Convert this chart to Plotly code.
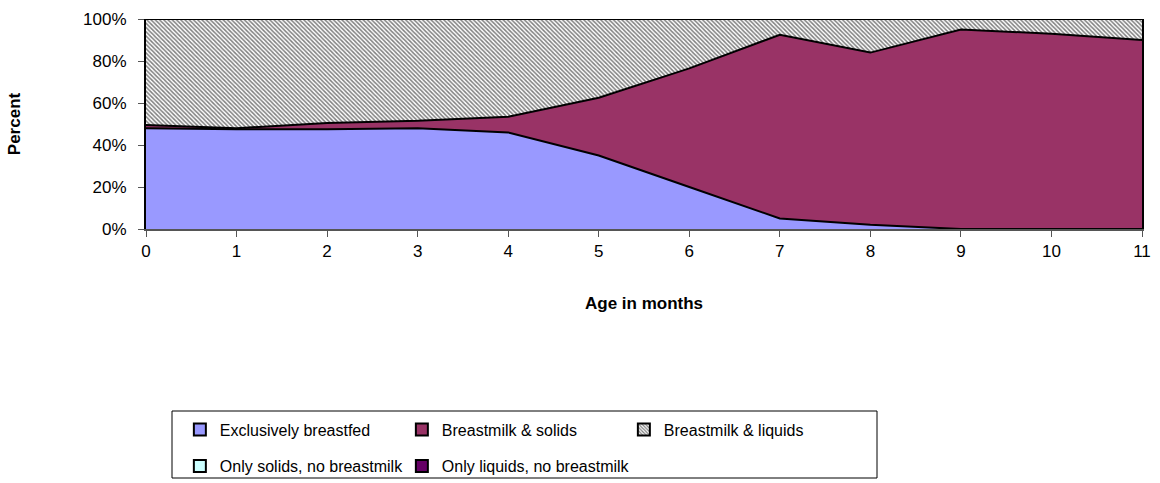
import plotly.graph_objects as go

# Age in months (x axis)
ages = [0, 1, 2, 3, 4, 5, 6, 7, 8, 9, 10, 11]

# Feeding pattern shares, percent of infants at each age
exclusively_breastfed = [48, 47.5, 47.5, 48, 46, 35, 20, 5, 2, 0, 0, 0]
breastmilk_solids = [1.5, 0.5, 3, 3.5, 7.5, 27.5, 56.5, 87.5, 82, 95, 93, 90]
breastmilk_liquids = [50.5, 52, 49.5, 48.5, 46.5, 37.5, 23.5, 7.5, 16, 5, 7, 10]
only_solids = [0, 0, 0, 0, 0, 0, 0, 0, 0, 0, 0, 0]
only_liquids = [0, 0, 0, 0, 0, 0, 0, 0, 0, 0, 0, 0]

y_ticks = [0, 20, 40, 60, 80, 100]
y_tick_labels = ["0%", "20%", "40%", "60%", "80%", "100%"]

FONT = "Liberation Sans, Arial, sans-serif"

series = [
    dict(name="Exclusively breastfed", y=exclusively_breastfed, color="#9999FF", pattern=None, legend="legend"),
    dict(name="Breastmilk & solids", y=breastmilk_solids, color="#993366", pattern=None, legend="legend"),
    dict(name="Breastmilk & liquids", y=breastmilk_liquids, color="#FFFFFF", pattern="\\", legend="legend"),
    dict(name="Only solids, no breastmilk", y=only_solids, color="#CCFFFF", pattern=None, legend="legend2"),
    dict(name="Only liquids, no breastmilk", y=only_liquids, color="#660066", pattern=None, legend="legend3"),
]

fig = go.Figure()

# 100% stacked areas with black outlines
for s in series:
    kw = {}
    if s["pattern"]:
        kw["fillpattern"] = dict(shape=s["pattern"], fgcolor="black", bgcolor="white",
                                 size=3, solidity=0.5)
    else:
        kw["fillcolor"] = s["color"]
    fig.add_trace(go.Scatter(
        x=ages, y=s["y"], name=s["name"], mode="lines",
        stackgroup="one", groupnorm="percent",
        line=dict(color="black", width=2),
        showlegend=False, hoverinfo="skip", **kw))

# Square legend swatches
for s in series:
    marker = dict(color=s["color"], line=dict(color="black", width=2))
    if s["pattern"]:
        marker["pattern"] = dict(shape=s["pattern"], fgcolor="black", bgcolor="white",
                                 size=3, solidity=0.5)
    fig.add_trace(go.Bar(x=[None], y=[None], name=s["name"], marker=marker,
                         legend=s["legend"], showlegend=True))

legend_common = dict(orientation="h", xanchor="left", yanchor="middle",
                     traceorder="normal",
                     font=dict(family=FONT, size=16, color="black"),
                     bgcolor="rgba(0,0,0,0)", borderwidth=0, itemclick=False)

row1_y = -(429.5 - 229) / 210
row2_y = -(466 - 229) / 210
col1_x = 0.034
col2_x = col1_x + 222 / 996

fig.update_layout(
    width=1160, height=483,
    margin=dict(l=146, r=18, t=19, b=254, autoexpand=False),
    paper_bgcolor="white", plot_bgcolor="white",
    font=dict(family=FONT, size=17, color="black"),
    showlegend=True,
    legend=dict(x=col1_x, y=row1_y, entrywidth=177, entrywidthmode="pixels", **legend_common),
    legend2=dict(x=col1_x, y=row2_y, **legend_common),
    legend3=dict(x=col2_x, y=row2_y, **legend_common),
    xaxis=dict(
        range=[0, 11], tickmode="array", tickvals=ages,
        showgrid=False, zeroline=False,
        showline=True, linecolor="#555555", linewidth=1.5,
        ticks="outside", ticklen=6, tickcolor="#555555", tickwidth=1,
        tickfont=dict(family=FONT, size=17, color="black"),
        title=dict(text="<b>Age in months</b>", standoff=37,
                   font=dict(family=FONT, size=17, color="black")),
    ),
    yaxis=dict(
        range=[0, 100], tickmode="array", tickvals=y_ticks, ticktext=y_tick_labels,
        showgrid=False, zeroline=False,
        showline=True, linecolor="black", linewidth=2, mirror=True,
        ticks="outside", ticklen=6, tickcolor="#555555", tickwidth=1,
        ticklabelstandoff=8,
        tickfont=dict(family=FONT, size=17, color="black"),
        title=dict(text="<b>Percent</b>", standoff=58,
                   font=dict(family=FONT, size=17, color="black")),
    ),
    shapes=[dict(type="rect", xref="paper", yref="paper",
                 x0=(172 - 146) / 996, x1=(877 - 146) / 996,
                 y0=-(478 - 229) / 210, y1=-(411 - 229) / 210,
                 line=dict(color="black", width=1), fillcolor="rgba(0,0,0,0)",
                 layer="below")],
)

fig.write_html("out.html")
